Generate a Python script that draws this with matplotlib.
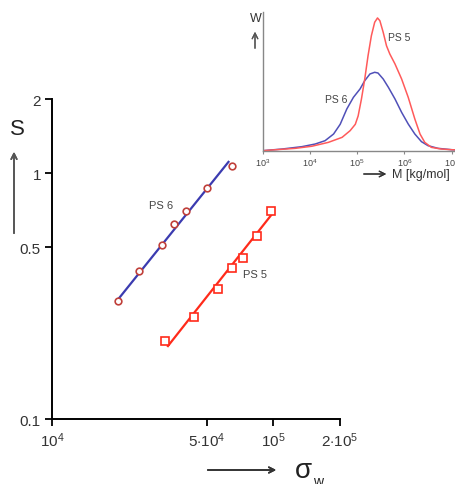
import matplotlib.pyplot as plt
import numpy as np

plt.rcParams.update(
    {
        "font.family": ["Liberation Sans", "DejaVu Sans"],
        "mathtext.fontset": "custom",
        "mathtext.rm": "Liberation Sans",
        "mathtext.it": "Liberation Sans:italic",
        "text.color": "#333333",
    }
)

# Main plot: S versus sigma_w, two polystyrene samples
ps6_sigma = [19900, 24700, 31300, 35700, 40200, 49900, 64700]
ps6_s = [0.303, 0.399, 0.512, 0.622, 0.702, 0.867, 1.065]
ps6_fit_sigma = [19800, 62700]
ps6_fit_s = [0.305, 1.11]

ps5_sigma = [32300, 43600, 56000, 64900, 72800, 84200, 97800]
ps5_s = [0.207, 0.261, 0.338, 0.411, 0.452, 0.556, 0.702]
ps5_fit_sigma = [33400, 100000]
ps5_fit_s = [0.198, 0.692]

x_ticks = [1e4, 5e4, 1e5, 2e5]
x_ticklabels = [r"$10^4$", r"$5{\cdot}10^4$", r"$10^5$", r"$2{\cdot}10^5$"]
y_ticks = [0.1, 0.5, 1, 2]
y_ticklabels = ["0.1", "0.5", "1", "2"]

# Inset: molar mass distributions (log10 M, weight fraction)
ps5_logm = [3.0, 3.20, 3.69, 4.04, 4.39, 4.68, 4.85, 4.96, 5.02, 5.09, 5.16, 5.23,
            5.30, 5.37, 5.43, 5.48, 5.55, 5.62, 5.69, 5.80, 5.94, 6.08, 6.22, 6.33,
            6.43, 6.57, 6.78, 7.0, 7.07]
ps5_w = [0.0, 0.005, 0.017, 0.032, 0.06, 0.096, 0.144, 0.19, 0.25, 0.372, 0.516, 0.684,
         0.827, 0.924, 0.955, 0.935, 0.852, 0.755, 0.696, 0.624, 0.516, 0.384, 0.228, 0.12,
         0.06, 0.024, 0.012, 0.007, 0.006]
ps6_logm = [3.0, 3.41, 3.83, 4.11, 4.32, 4.50, 4.64, 4.78, 4.92, 5.06, 5.16, 5.27,
            5.37, 5.44, 5.55, 5.66, 5.80, 5.94, 6.08, 6.22, 6.36, 6.50, 6.71, 7.0, 7.07]
ps6_w = [0.0, 0.012, 0.029, 0.048, 0.072, 0.12, 0.19, 0.30, 0.384, 0.444, 0.504, 0.552,
         0.564, 0.559, 0.516, 0.456, 0.372, 0.276, 0.192, 0.12, 0.065, 0.036, 0.017, 0.007,
         0.006]
inset_ticks = [1e3, 1e4, 1e5, 1e6, 1e7]
inset_ticklabels = [r"$10^3$", r"$10^4$", r"$10^5$", r"$10^6$", r"$10^7$"]

W, H = 455, 485
fig = plt.figure(figsize=(W / 100, H / 100), dpi=100)
fig.patch.set_facecolor("white")

ax = fig.add_axes([52 / W, (H - 420) / H, (340 - 52) / W, (420 - 100) / H])
ax.set_xscale("log")
ax.set_yscale("log")
ax.set_xlim(1e4, 2e5)
ax.set_ylim(0.1, 2)

ax.plot(ps6_fit_sigma, ps6_fit_s, color="#3b3bb0", lw=1.6, zorder=2)
ax.plot(ps6_sigma, ps6_s, "o", ms=4.8, mfc="white", mec="#c0403a", mew=1.2, zorder=3)
ax.plot(ps5_fit_sigma, ps5_fit_s, color="#ff2a1a", lw=1.6, zorder=2)
ax.plot(ps5_sigma, ps5_s, "s", ms=5.8, mfc="white", mec="#ff2a1a", mew=1.2, zorder=3)

ax.text(31000, 0.74, "PS 6", fontsize=8, color="#444444", ha="center", va="center")
ax.text(83000, 0.389, "PS 5", fontsize=8, color="#444444", ha="center", va="center")

for side in ("top", "right"):
    ax.spines[side].set_visible(False)
for side in ("left", "bottom"):
    ax.spines[side].set_linewidth(1.4)
ax.xaxis.set_minor_locator(plt.NullLocator())
ax.yaxis.set_minor_locator(plt.NullLocator())
ax.set_xticks(x_ticks)
ax.set_xticklabels(x_ticklabels)
ax.set_yticks(y_ticks)
ax.set_yticklabels(y_ticklabels)
ax.tick_params(direction="out", length=5, width=1.3, labelsize=11, labelcolor="#333333", pad=3)

# axis labels with arrows
fig.text(17 / W, 1 - 130 / H, "S", fontsize=16, ha="center", va="center", color="#222222")
fig.add_artist(plt.annotate("", xy=(14 / W, 1 - 150 / H), xytext=(14 / W, 1 - 237 / H),
                            xycoords="figure fraction",
                            arrowprops=dict(arrowstyle="->", color="#555555", lw=1.2)))
fig.text(303 / W, 1 - 471 / H, "σ", fontsize=20, ha="center", va="center", color="#222222")
fig.text(318 / W, 1 - 482 / H, "w", fontsize=10, ha="center", va="center", color="#222222")
fig.add_artist(plt.annotate("", xy=(279 / W, 1 - 471 / H), xytext=(205 / W, 1 - 471 / H),
                            xycoords="figure fraction",
                            arrowprops=dict(arrowstyle="->", color="#333333", lw=1.2)))

# inset with molar mass distributions
ins = fig.add_axes([262.7 / W, (H - 151.7) / H, (455 - 262.7) / W, 139 / H])
ins.set_xscale("log")
ins.set_xlim(1e3, 10 ** 7.07)
ins.set_ylim(0, 1)
ins.plot(10 ** np.array(ps6_logm), ps6_w, color="#5050b8", lw=1.1, solid_joinstyle="round")
ins.plot(10 ** np.array(ps5_logm), ps5_w, color="#ff5a5a", lw=1.1, solid_joinstyle="round")
ins.text(10 ** 5.65, 0.82, "PS 5", fontsize=7.5, color="#444444", ha="left", va="center")
ins.text(10 ** 4.56, 0.37, "PS 6", fontsize=7.5, color="#444444", ha="center", va="center")
for side in ("top", "right"):
    ins.spines[side].set_visible(False)
for side in ("left", "bottom"):
    ins.spines[side].set_color("#888888")
    ins.spines[side].set_linewidth(1.0)
ins.xaxis.set_minor_locator(plt.NullLocator())
ins.set_xticks(inset_ticks)
ins.set_xticklabels(inset_ticklabels)
ins.set_yticks([])
ins.tick_params(axis="x", direction="out", length=2.5, width=0.8, color="#888888",
                labelsize=6.5, labelcolor="#444444", pad=1.5)

fig.text(256 / W, 1 - 19 / H, "W", fontsize=9, ha="center", va="center", color="#333333")
fig.add_artist(plt.annotate("", xy=(255 / W, 1 - 30 / H), xytext=(255 / W, 1 - 52 / H),
                            xycoords="figure fraction",
                            arrowprops=dict(arrowstyle="->", color="#555555", lw=0.9)))
fig.text(392 / W, 1 - 175 / H, "M [kg/mol]", fontsize=9, ha="left", va="center",
         color="#333333")
fig.add_artist(plt.annotate("", xy=(389 / W, 1 - 175 / H), xytext=(361 / W, 1 - 175 / H),
                            xycoords="figure fraction",
                            arrowprops=dict(arrowstyle="->", color="#333333", lw=0.9)))

fig.savefig("out.png", dpi=100)
